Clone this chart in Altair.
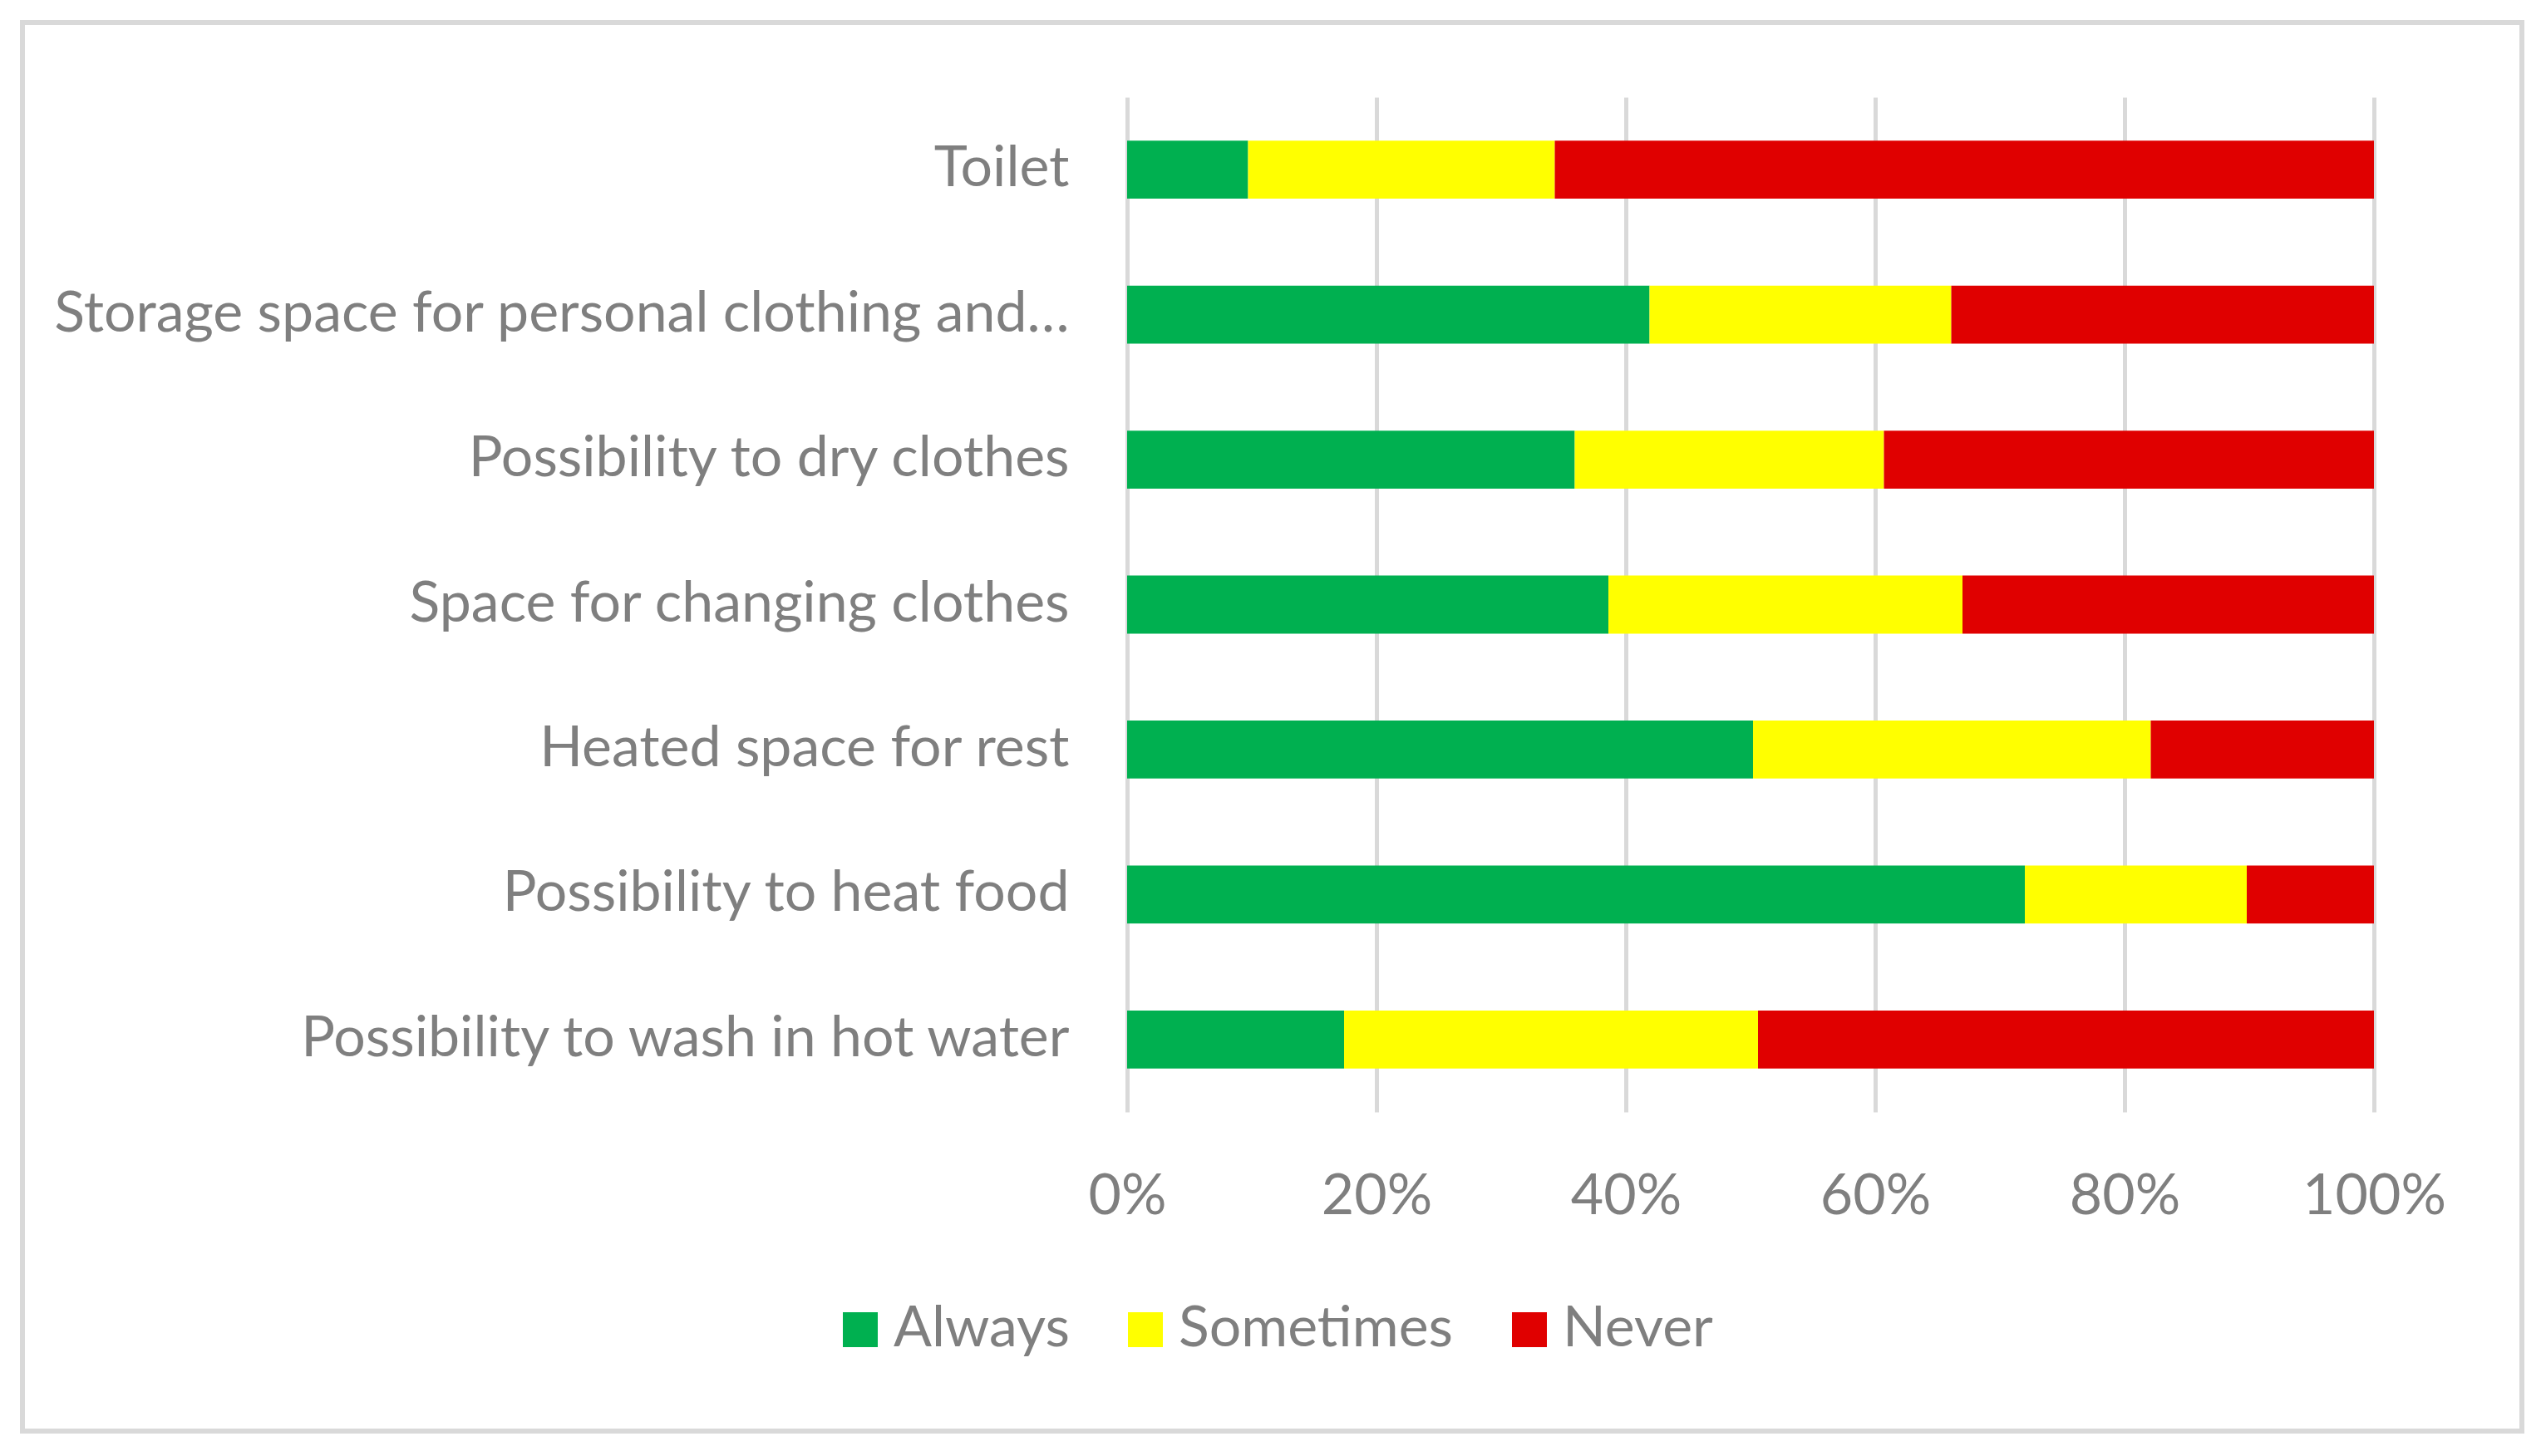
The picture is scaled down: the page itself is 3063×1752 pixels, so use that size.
import altair as alt
import pandas as pd

categories = [
    "Toilet",
    "Storage space for personal clothing and…",
    "Possibility to dry clothes",
    "Space for changing clothes",
    "Heated space for rest",
    "Possibility to heat food",
    "Possibility to wash in hot water",
]
always = [9.7, 41.9, 35.9, 38.6, 50.2, 72.0, 17.4]
sometimes = [24.6, 24.2, 24.8, 28.4, 31.9, 17.8, 33.2]
never = [65.7, 33.9, 39.3, 33.0, 17.9, 10.2, 49.4]
series = ["Always", "Sometimes", "Never"]
colors = ["#00b050", "#ffff00", "#e00000"]
tick_values = [0, 0.2, 0.4, 0.6, 0.8, 1.0]

rows = []
for i, c in enumerate(categories):
    for k, (s, vals) in enumerate(zip(series, [always, sometimes, never])):
        rows.append({"category": c, "series": s, "value": vals[i], "order": k})
df = pd.DataFrame(rows)

FONT = "Lato"
GRAY = "#7f7f7f"
FS = 68

bars = alt.Chart(df).mark_bar().encode(
    y=alt.Y("category:N", sort=categories, title=None,
            scale=alt.Scale(paddingInner=0.6, paddingOuter=0.3),
            axis=alt.Axis(domain=False, ticks=False, labelFont=FONT, labelFontSize=FS,
                          labelColor=GRAY, labelPadding=70, labelLimit=2000)),
    x=alt.X("value:Q", stack="normalize", title=None,
            scale=alt.Scale(domain=[0, 1], nice=False),
            axis=alt.Axis(values=tick_values, format=".0%", domain=False, ticks=False,
                          grid=True, gridColor="#d9d9d9", gridWidth=5,
                          labelFont=FONT, labelFontSize=FS, labelColor=GRAY,
                          labelFlush=False, labelPadding=68)),
    color=alt.Color("series:N", sort=series,
                    scale=alt.Scale(domain=series, range=colors),
                    legend=alt.Legend(title=None, orient="none", legendX=-355, legendY=1449,
                                      direction="horizontal", symbolType="square",
                                      symbolSize=1764, symbolStrokeWidth=0,
                                      labelFont=FONT, labelFontSize=FS, labelColor=GRAY,
                                      labelLimit=2000,
                                      labelOffset=6, columnPadding=57, padding=0)),
    order=alt.Order("order:Q"),
)

frame = alt.Chart(pd.DataFrame({"a": [0]})).mark_rect(
    filled=False, stroke="#d9d9d9", strokeWidth=6, clip=False
).encode(x=alt.value(-1329), x2=alt.value(1678), y=alt.value(-90), y2=alt.value(1605))

chart = alt.layer(frame, bars).properties(
    width=1500, height=1221,
    autosize=alt.AutoSizeParams(type="none"),
    padding={"left": 1348, "top": 109, "right": 199, "bottom": 406},
).configure_view(stroke=None)

chart.save("out.html", embed_options={"renderer": "svg", "actions": False})
